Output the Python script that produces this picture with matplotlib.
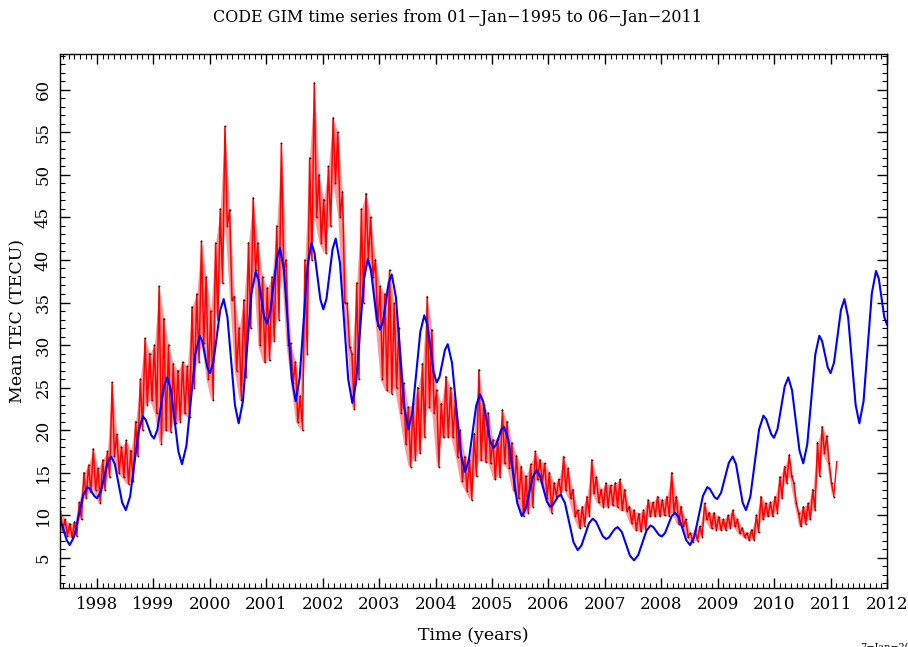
import numpy as np
import matplotlib
matplotlib.use("Agg")
import matplotlib.pyplot as plt
from matplotlib.ticker import MultipleLocator

# TEC medio diario: maximo y minimo de cada mes (desde 1997.35, paso 1/12 de año)
t0 = 1997.35
tec_hi = [
    10.5, 9.5, 9.0, 9.2, 11.5, 15.0, 15.9, 17.8, 15.5, 16.5, 17.5, 25.6,
    19.5, 18.0, 18.8, 17.6, 21.0, 26.0, 30.8, 29.0, 30.0, 36.9, 33.1, 30.0,
    27.8, 27.0, 28.0, 27.5, 34.5, 36.0, 42.2, 38.0, 34.0, 42.0, 46.0, 55.7,
    45.9, 35.7, 32.0, 35.3, 42.0, 47.3, 42.0, 38.0, 36.7, 38.0, 44.0, 53.7,
    40.0, 30.2, 28.0, 24.0, 40.0, 52.0, 60.8, 50.0, 47.1, 51.0, 56.7, 55.0,
    48.0, 34.9, 29.0, 37.3, 46.0, 47.8, 45.0, 40.0, 36.9, 36.0, 38.8, 34.9,
    32.0, 25.5, 22.7, 23.1, 25.0, 27.8, 35.7, 31.8, 24.7, 23.1, 26.3, 25.0,
    23.5, 20.0, 16.9, 16.5, 19.6, 27.1, 23.0, 22.0, 18.9, 19.0, 22.4, 21.0,
    18.5, 17.0, 15.7, 14.6, 16.0, 17.5, 16.5, 16.1, 15.0, 13.8, 14.2, 16.9,
    15.5, 13.0, 10.6, 11.0, 12.2, 16.5, 14.5, 13.0, 13.8, 13.5, 13.8, 14.2,
    13.0, 11.0, 10.6, 10.2, 10.6, 11.8, 11.5, 12.2, 11.8, 12.2, 15.0, 12.2,
    11.0, 9.5, 7.9, 8.2, 8.7, 11.4, 10.3, 10.3, 9.8, 9.5, 10.0, 10.6,
    9.5, 8.5, 7.9, 8.3, 10.0, 12.2, 11.4, 11.5, 12.2, 14.5, 15.7, 17.1,
    13.8, 10.3, 11.0, 11.4, 13.0, 18.5, 20.4, 19.3, 13.8,
]
tec_lo = [
    8.2, 7.6, 7.4, 7.6, 9.5, 12.0, 12.7, 13.0, 11.4, 13.0, 14.5, 17.0,
    15.0, 14.5, 13.7, 14.0, 17.0, 20.0, 23.0, 23.5, 22.0, 18.4, 20.0, 19.8,
    20.8, 21.0, 22.0, 21.5, 25.0, 28.0, 30.2, 26.0, 23.5, 33.0, 37.3, 44.0,
    35.3, 27.0, 23.5, 26.3, 32.0, 38.8, 30.0, 28.0, 28.2, 30.5, 33.0, 38.8,
    30.0, 25.5, 21.0, 20.0, 29.0, 40.0, 45.0, 42.0, 40.8, 44.0, 49.0, 45.0,
    35.0, 29.8, 22.5, 26.0, 35.0, 40.0, 38.0, 32.2, 26.0, 24.7, 24.3, 25.0,
    22.0, 18.4, 15.7, 16.5, 17.3, 19.2, 22.7, 22.0, 15.7, 19.2, 19.2, 19.2,
    16.9, 14.0, 12.9, 11.8, 14.6, 16.5, 16.3, 16.1, 14.2, 14.5, 16.1, 15.5,
    13.0, 12.0, 9.9, 10.3, 11.0, 14.2, 13.8, 12.0, 10.3, 12.2, 12.4, 13.0,
    12.0, 9.9, 8.5, 8.7, 9.9, 12.6, 11.5, 11.0, 11.0, 11.2, 11.0, 10.6,
    10.5, 9.1, 8.3, 8.1, 8.3, 9.9, 9.9, 9.9, 10.0, 9.9, 10.3, 9.0,
    8.7, 7.5, 6.9, 7.0, 7.5, 9.5, 8.5, 8.3, 8.3, 8.3, 8.5, 8.7,
    7.9, 7.5, 7.1, 7.1, 8.0, 9.5, 9.9, 9.9, 10.3, 12.0, 13.8, 14.6,
    11.4, 8.7, 9.0, 9.5, 10.6, 14.6, 17.3, 16.1, 12.2,
]
# ultimos dias (linea fina al final)
tail_t = [2011.06, 2011.11]
tail_v = [12.5, 16.3]

# modelo ajustado (curva azul)
fit_t = [
    1997.344, 1997.40, 1997.46, 1997.516, 1997.595, 1997.673, 1997.752, 1997.83,
    1997.873, 1997.915, 1997.958, 1998.0, 1998.063, 1998.125, 1998.188, 1998.25,
    1998.315, 1998.38, 1998.445, 1998.51, 1998.586, 1998.663, 1998.739, 1998.815,
    1998.864, 1998.913, 1998.961, 1999.01, 1999.069, 1999.128, 1999.186, 1999.245,
    1999.31, 1999.376, 1999.441, 1999.506, 1999.585, 1999.663, 1999.742, 1999.82,
    1999.865, 1999.91, 1999.955, 2000.0, 2000.061, 2000.123, 2000.184, 2000.245,
    2000.311, 2000.378, 2000.444, 2000.51, 2000.585, 2000.66, 2000.735, 2000.81,
    2000.86, 2000.91, 2000.96, 2001.01, 2001.068, 2001.127, 2001.185, 2001.243,
    2001.312, 2001.382, 2001.451, 2001.52, 2001.59, 2001.66, 2001.73, 2001.80,
    2001.853, 2001.905, 2001.958, 2002.01, 2002.065, 2002.12, 2002.175, 2002.23,
    2002.304, 2002.377, 2002.451, 2002.524, 2002.592, 2002.66, 2002.729, 2002.797,
    2002.852, 2002.906, 2002.961, 2003.015, 2003.067, 2003.119, 2003.17, 2003.222,
    2003.296, 2003.37, 2003.443, 2003.517, 2003.588, 2003.659, 2003.729, 2003.80,
    2003.855, 2003.91, 2003.965, 2004.02, 2004.069, 2004.118, 2004.166, 2004.215,
    2004.291, 2004.368, 2004.444, 2004.52, 2004.587, 2004.654, 2004.72, 2004.787,
    2004.846, 2004.905, 2004.964, 2005.023, 2005.07, 2005.118, 2005.165, 2005.212,
    2005.29, 2005.369, 2005.447, 2005.526, 2005.592, 2005.658, 2005.724, 2005.79,
    2005.85, 2005.91, 2005.97, 2006.03, 2006.077, 2006.124, 2006.17, 2006.217,
    2006.292, 2006.368, 2006.443, 2006.518, 2006.585, 2006.651, 2006.718, 2006.784,
    2006.843, 2006.902, 2006.961, 2007.02, 2007.072, 2007.124, 2007.175, 2007.227,
    2007.299, 2007.372, 2007.444, 2007.516, 2007.59, 2007.663, 2007.737, 2007.81,
    2007.859, 2007.908, 2007.957, 2008.006, 2008.065, 2008.125, 2008.184, 2008.243,
    2008.31, 2008.377, 2008.443, 2008.51, 2008.586, 2008.663, 2008.739, 2008.815,
    2008.859, 2008.903, 2008.946, 2008.99, 2009.059, 2009.128, 2009.196, 2009.265,
    2009.324, 2009.383, 2009.441, 2009.50, 2009.578, 2009.655, 2009.733, 2009.81,
    2009.857, 2009.904, 2009.95, 2009.997, 2010.06, 2010.124, 2010.187, 2010.25,
    2010.316, 2010.383, 2010.449, 2010.515, 2010.586, 2010.658, 2010.729, 2010.80,
    2010.85, 2010.9, 2010.95, 2011.0, 2011.061, 2011.123, 2011.184, 2011.245,
    2011.311, 2011.378, 2011.444, 2011.51, 2011.584, 2011.658, 2011.731, 2011.805,
    2011.854, 2011.903, 2011.951, 2012.0,
]
fit_v = [
    9.4, 8.5, 7.1, 6.5, 7.5, 9.9, 12.3, 13.3,
    13.1, 12.65, 12.2, 12.0, 12.7, 14.45, 16.2, 16.9,
    16.0, 13.75, 11.5, 10.6, 12.2, 16.1, 20.0, 21.6,
    21.2, 20.3, 19.4, 19.0, 20.05, 22.6, 25.15, 26.2,
    24.7, 21.1, 17.5, 16.0, 18.2, 23.55, 28.9, 31.1,
    30.45, 28.9, 27.35, 26.7, 27.95, 31.05, 34.15, 35.4,
    33.25, 28.1, 22.95, 20.8, 23.4, 29.7, 36.0, 38.6,
    37.7, 35.55, 33.4, 32.5, 33.8, 36.95, 40.1, 41.4,
    38.8, 32.4, 26.0, 23.4, 26.1, 32.7, 39.3, 42.0,
    40.85, 38.1, 35.35, 34.2, 35.4, 38.35, 41.3, 42.5,
    39.7, 32.85, 26.0, 23.2, 25.65, 31.65, 37.65, 40.1,
    38.9, 35.95, 33.0, 31.8, 32.75, 35.05, 37.35, 38.3,
    35.65, 29.2, 22.75, 20.1, 22.05, 26.8, 31.55, 33.5,
    32.35, 29.55, 26.75, 25.6, 26.25, 27.85, 29.45, 30.1,
    27.9, 22.6, 17.3, 15.1, 16.4, 19.65, 22.9, 24.2,
    23.3, 21.05, 18.8, 17.9, 18.25, 19.15, 20.05, 20.4,
    18.85, 15.15, 11.45, 9.9, 10.7, 12.6, 14.5, 15.3,
    14.65, 13.15, 11.65, 11.0, 11.2, 11.7, 12.2, 12.4,
    11.45, 9.15, 6.85, 5.9, 6.45, 7.75, 9.05, 9.6,
    9.25, 8.4, 7.55, 7.2, 7.4, 7.9, 8.4, 8.6,
    8.05, 6.65, 5.25, 4.7, 5.3, 6.75, 8.2, 8.8,
    8.6, 8.15, 7.7, 7.5, 7.9, 8.9, 9.9, 10.3,
    9.75, 8.4, 7.05, 6.5, 7.5, 9.9, 12.3, 13.3,
    13.1, 12.6, 12.1, 11.9, 12.65, 14.4, 16.15, 16.9,
    16.0, 13.75, 11.5, 10.6, 12.2, 16.15, 20.1, 21.7,
    21.3, 20.4, 19.5, 19.1, 20.15, 22.65, 25.15, 26.2,
    24.7, 21.15, 17.6, 16.1, 18.3, 23.6, 28.9, 31.1,
    30.45, 28.9, 27.35, 26.7, 27.95, 31.05, 34.15, 35.4,
    33.25, 28.1, 22.95, 20.8, 23.4, 29.75, 36.1, 38.7,
    37.8, 35.55, 33.3, 32.4,
]

# serie en zig-zag: maximo al inicio del mes, minimo a mitad de mes
n = len(tec_hi)
t_hi = t0 + np.arange(n) / 12.0
t_lo = t_hi + 1.0 / 24.0
t_obs = np.column_stack([t_hi, t_lo]).ravel()
v_obs = np.column_stack([tec_hi, tec_lo]).ravel()

plt.rcParams['font.family'] = 'DejaVu Serif'
fig = plt.figure(figsize=(9.08, 6.47), dpi=100)
ax = fig.add_axes([0.0661, 0.0912, 0.9108, 0.8253])

ax.fill_between(t_hi, tec_lo, tec_hi, color='#ff2020', alpha=0.45, lw=0)
ax.plot(t_obs, v_obs, color='#ff0000', lw=1.1)
ax.plot(t_obs, v_obs, ls='none', marker='o', ms=1.3, color='#400000', mew=0)
ax.plot(tail_t, tail_v, color='#ff0000', lw=1.0)
ax.plot(fit_t, fit_v, color='#0000ff', lw=1.5)

ax.set_xlim(1997.344, 2012.0)
ax.set_ylim(1.45, 64.2)
ax.xaxis.set_major_locator(MultipleLocator(1))
ax.xaxis.set_minor_locator(MultipleLocator(0.1))
ax.yaxis.set_major_locator(MultipleLocator(5))
ax.yaxis.set_minor_locator(MultipleLocator(1))
ax.xaxis.set_major_formatter(plt.FuncFormatter(lambda v, p: "%d" % round(v)))
ax.tick_params(which='both', direction='in', top=True, right=True, labelsize=12, colors='black')
ax.tick_params(which='major', length=7, width=1)
ax.tick_params(which='minor', length=3.5, width=0.8)
ax.tick_params(axis='x', pad=6)
ax.tick_params(axis='y', pad=6)
plt.setp(ax.get_yticklabels(), rotation=90, va='center')
for s in ax.spines.values():
    s.set_linewidth(1.0)

fig.text(0.5044, 0.973, "CODE GIM time series from 01\u2212Jan\u22121995 to 06\u2212Jan\u22122011",
         fontsize=11.5, ha='center', va='center')
ax.set_xlabel("Time (years)", fontsize=12.5, labelpad=10)
ax.set_ylabel("Mean TEC (TECU)", fontsize=12.5, labelpad=6)
fig.text(0.947, 0.0, "7\u2212Jan\u22122011", fontsize=7, va='center')

fig.savefig("out.png", dpi=100)
